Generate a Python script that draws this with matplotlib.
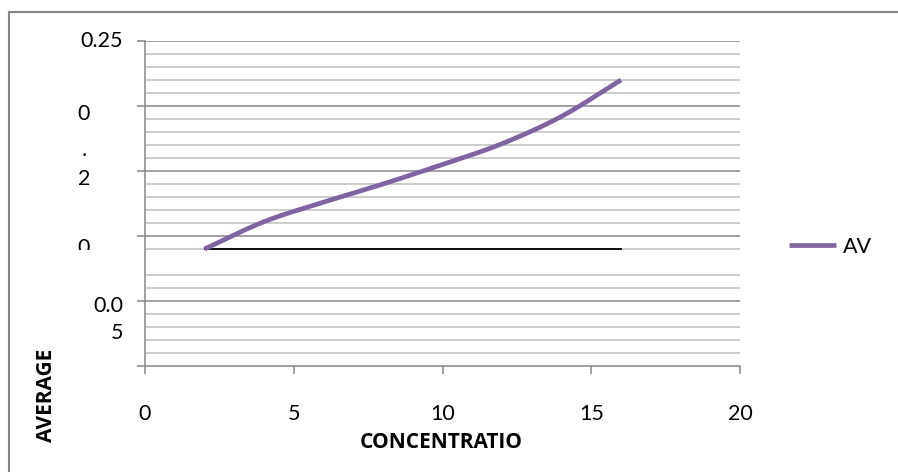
import numpy as np
import matplotlib.pyplot as plt
from matplotlib.lines import Line2D
from matplotlib.transforms import Bbox, blended_transform_factory

plt.rcParams['font.family'] = ['Lato', 'DejaVu Sans']

# series
conc = [2, 4, 6, 8, 10, 12, 14, 16]
avg = [0.090, 0.111, 0.126, 0.140, 0.155, 0.171, 0.192, 0.220]
base_x = [2, 16]
base_y = [0.09, 0.09]

x_ticks = [0, 5, 10, 15, 20]
y_major = [0, 0.05, 0.10, 0.15, 0.20, 0.25]
y_minor = [0.01, 0.02, 0.03, 0.04, 0.06, 0.07, 0.09,
           0.11, 0.12, 0.13, 0.14, 0.16, 0.17, 0.18, 0.19,
           0.21, 0.22, 0.23, 0.24]
# the y tick labels come out wrapped/clipped in the original
y_label_bits = [('0.25', 0.25, 'right'), ('0', 0.194, 'center'),
                ('.', 0.166, 'center'), ('2', 0.144, 'center'),
                ('0.0', 0.046, 'right'), ('5', 0.0253, 'right')]

purple = '#8064A2'
axis_gray = '#868686'
minor_gray = '#BFBFBF'


def smooth(xs, ys, n=30):
    # catmull-rom, close to Excel's smoothed line
    xs = np.asarray(xs, float)
    ys = np.asarray(ys, float)
    px = np.concatenate([[2 * xs[0] - xs[1]], xs, [2 * xs[-1] - xs[-2]]])
    py = np.concatenate([[2 * ys[0] - ys[1]], ys, [2 * ys[-1] - ys[-2]]])
    out_x, out_y = [], []
    t = np.linspace(0, 1, n)
    for i in range(1, len(px) - 2):
        for p, out in ((px, out_x), (py, out_y)):
            p0, p1, p2, p3 = p[i - 1], p[i], p[i + 1], p[i + 2]
            out.extend(0.5 * (2 * p1 + (-p0 + p2) * t
                              + (2 * p0 - 5 * p1 + 4 * p2 - p3) * t ** 2
                              + (-p0 + 3 * p1 - 3 * p2 + p3) * t ** 3))
    return out_x, out_y


fig = plt.figure(figsize=(8.98, 4.72), dpi=100)
ax = fig.add_axes([145 / 898, 1 - 366 / 472, 595 / 898, 325 / 472])

for v in y_minor:
    ax.axhline(v, color=minor_gray, lw=1.1, zorder=1)
for v in y_major[1:]:
    ax.axhline(v, color=axis_gray, lw=1.1, zorder=1)

ax.plot(base_x, base_y, color='black', lw=1.3, zorder=2)
sx, sy = smooth(conc, avg)
ax.plot(sx, sy, color=purple, lw=3.4, solid_capstyle='butt', zorder=3)

ax.set_xlim(0, 20)
ax.set_ylim(0, 0.25)
ax.set_xticks(x_ticks)
ax.set_xticklabels([str(v) for v in x_ticks], fontsize=15.5)
ax.set_yticks(y_major)
ax.set_yticklabels([])
ax.tick_params(axis='both', direction='out', length=6, width=1.1,
               color=axis_gray)
ax.tick_params(axis='x', pad=21)
for s in ['top', 'right']:
    ax.spines[s].set_visible(False)
for s in ['left', 'bottom']:
    ax.spines[s].set_color(axis_gray)
    ax.spines[s].set_linewidth(1.1)

tr = blended_transform_factory(fig.transFigure, ax.transData)
for txt, yv, ha in y_label_bits:
    xx = 123 / 898 if ha == 'right' else 84 / 898
    ax.text(xx, yv, txt, transform=tr, ha=ha, va='center', fontsize=15.5,
            clip_on=False)

# half-visible "0" of the clipped 0.1 label
t0 = ax.text(84 / 898, 0.0905, '0', transform=tr, ha='center',
             va='center', fontsize=15.5)
t0.set_clip_box(Bbox.from_extents(0, 472 - 250, 898, 472))
t0.set_clip_on(True)

bold = dict(family=['Open Sans', 'DejaVu Sans'], fontweight='bold',
            fontsize=15)
fig.text(441 / 898, 1 - 442 / 472, 'CONCENTRATIO', ha='center',
         va='center', **bold)
fig.text(46 / 898, 1 - 395 / 472, 'AVERAGE', ha='center', va='center',
         rotation=90, **bold)

handle = Line2D([], [], color=purple, lw=3.4, solid_capstyle='butt')
fig.legend([handle], ['AV'], loc='center left',
           bbox_to_anchor=(789 / 898, 1 - 247 / 472), frameon=False,
           fontsize=15.5, handlelength=2.2, handletextpad=0.3,
           borderpad=0, borderaxespad=0)

# outer chart frame
fig.add_artist(Line2D([8.5 / 898, 8.5 / 898], [0, 1 - 12 / 472],
                      color=axis_gray, lw=1.5))
fig.add_artist(Line2D([8.5 / 898, 1], [1 - 12 / 472, 1 - 12 / 472],
                      color=axis_gray, lw=1.5))

fig.savefig('out.png', dpi=100)
